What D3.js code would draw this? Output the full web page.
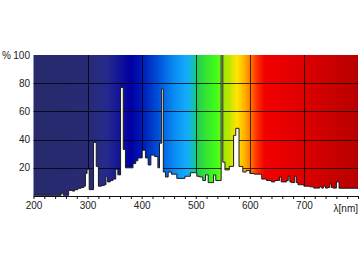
<!DOCTYPE html>
<html>
<head>
<meta charset="utf-8">
<script src="https://cdn.jsdelivr.net/npm/d3@7"></script>
<style>
  body { margin: 0; background: #fff; }
  text { font-family: "Liberation Sans", Arial, sans-serif; font-size: 10px; fill: #222; }
</style>
</head>
<body>
<script>
var w = 360;
var h = 262;

// spectrum, relative intensity (%) per wavelength (nm), stepwise
var wavelengths = [200, 251, 255, 265, 272, 276, 282, 288, 293, 296, 299, 303, 311, 316, 320, 326, 331, 334, 337, 342,
  347, 352, 356, 361, 366, 370, 375, 384, 389, 393, 401, 407, 412, 417, 424, 430, 433, 437, 440, 444,
  449, 455, 465, 480, 490, 502, 507, 513, 518, 523, 527, 533, 537, 544, 547, 550, 554, 562, 570, 574,
  580, 582, 587, 593, 600, 608, 617, 622, 631, 640, 646, 652, 655, 658, 668, 671, 674, 677, 683, 686,
  689, 692, 700, 711, 718, 729, 733, 736, 740, 744, 748, 751, 754, 760, 765, 800];
var intensity = [0.5, 2, 0.5, 4, 3.5, 4.5, 5.5, 6, 7, 16, 19, 4.5, 38, 21, 7, 7.5, 8, 14, 10, 11,
  12, 19, 15, 77, 33, 20, 20, 23, 25, 27, 32.5, 27, 22, 29, 28, 20, 37.5, 76, 17, 13.5,
  17, 15.5, 12.5, 14, 16.5, 14, 13.5, 11, 15, 9.5, 9.5, 15, 11, 11, 110, 24, 18.5, 21, 43, 48,
  21, 21, 17, 18, 16, 15.5, 15.5, 12, 11, 10, 11, 11, 13.5, 10, 11, 14, 10, 9.5, 14, 9.5,
  8, 8, 7, 6.5, 5.6, 6.5, 5.6, 7, 5.6, 6, 8.5, 6, 5.6, 10, 5.5, 5];

var xTicks = [200, 300, 400, 500, 600, 700];
var yTicks = [20, 40, 60, 80, 100];

// colour of the visible spectrum behind the plot
var bandNm = [200, 300, 335, 380, 400, 430, 460, 482, 494, 503, 515, 540, 551, 563, 576, 588, 600, 613, 628, 700, 800];
var bandColor = ["#272a6c", "#282b74", "#262a8c", "#0000a2", "#0018b4", "#0050d8", "#0a8cf2", "#12aaff", "#14bcc8", "#22c860",
  "#30e035", "#44ff18", "#9cec00", "#c4e400", "#ffe600", "#ffbc00", "#ff8000", "#ff3000", "#f20000", "#dc0000", "#b80000"];

var data = wavelengths.map(function(d, i) { return {nm: d, v: intensity[i]}; });

var x = d3.scaleLinear().domain([200, 800]).range([33.5, 358]);
var y = d3.scaleLinear().domain([0, 100]).range([196, 55]);

var svg = d3.select("body").append("svg")
    .attr("width", w)
    .attr("height", h);

var defs = svg.append("defs");
var grad = defs.append("linearGradient")
    .attr("id", "spec")
    .attr("gradientUnits", "userSpaceOnUse")
    .attr("x1", x(200)).attr("x2", x(800))
    .attr("y1", 0).attr("y2", 0);
bandNm.forEach(function(d, i) {
    grad.append("stop")
        .attr("offset", (d - 200) / 600)
        .attr("stop-color", bandColor[i]);
});
defs.append("clipPath").attr("id", "plot")
  .append("rect")
    .attr("x", x(200)).attr("y", y(100))
    .attr("width", x(800) - x(200)).attr("height", y(0) - y(100));

// fond colore
svg.append("rect")
    .attr("x", x(200)).attr("y", y(100))
    .attr("width", x(800) - x(200)).attr("height", y(0) - y(100))
    .attr("fill", "url(#spec)");

// grille
svg.selectAll(".hgrid").data(yTicks.slice(0, 4)).enter().append("line")
    .attr("x1", x(200)).attr("x2", x(800))
    .attr("y1", function(d) { return Math.round(y(d)) + 0.5; })
    .attr("y2", function(d) { return Math.round(y(d)) + 0.5; })
    .attr("stroke", "#000").attr("stroke-opacity", 0.75).attr("stroke-width", 1);
svg.selectAll(".vgrid").data(xTicks.slice(1)).enter().append("line")
    .attr("y1", y(100)).attr("y2", y(0))
    .attr("x1", function(d) { return Math.round(x(d)) + 0.5; })
    .attr("x2", function(d) { return Math.round(x(d)) + 0.5; })
    .attr("stroke", "#000").attr("stroke-opacity", 0.75).attr("stroke-width", 1);

var g = svg.append("g").attr("clip-path", "url(#plot)");

var area = d3.area()
    .x(function(d) { return x(d.nm); })
    .y0(y(0))
    .y1(function(d) { return y(d.v); })
    .curve(d3.curveStepAfter);
var line = d3.line()
    .x(function(d) { return x(d.nm); })
    .y(function(d) { return y(d.v); })
    .curve(d3.curveStepAfter);

g.append("path").datum(data)
    .attr("d", area)
    .attr("fill", "#fff");
g.append("path").datum(data)
    .attr("d", line)
    .attr("fill", "none")
    .attr("stroke", "#1a1a1a")
    .attr("stroke-width", 1);

// axe x
var xAxis = d3.axisBottom(x)
    .tickValues(d3.range(200, 801, 20))
    .tickSize(3)
    .tickFormat(function(d) { return xTicks.indexOf(d) >= 0 ? d : ""; });
var ax = svg.append("g")
    .attr("transform", "translate(0," + y(0) + ")")
    .call(xAxis);
ax.select(".domain").attr("stroke", "#111").attr("d", "M" + x(200) + ",0.5H" + x(800));
ax.selectAll(".tick line").attr("stroke", "#111");
ax.selectAll(".tick text").attr("dy", "0.85em").attr("y", 4);

svg.append("text")
    .attr("x", 358).attr("y", 212)
    .attr("text-anchor", "end")
    .text("λ[nm]");

// axe y
svg.selectAll(".ylab").data(yTicks).enter().append("text")
    .attr("x", 30)
    .attr("y", function(d) { return y(d); })
    .attr("dy", "0.35em")
    .attr("text-anchor", "end")
    .text(function(d) { return d; });

svg.append("text")
    .attr("x", 2).attr("y", y(100))
    .attr("dy", "0.35em")
    .text("%");
</script>
</body>
</html>
